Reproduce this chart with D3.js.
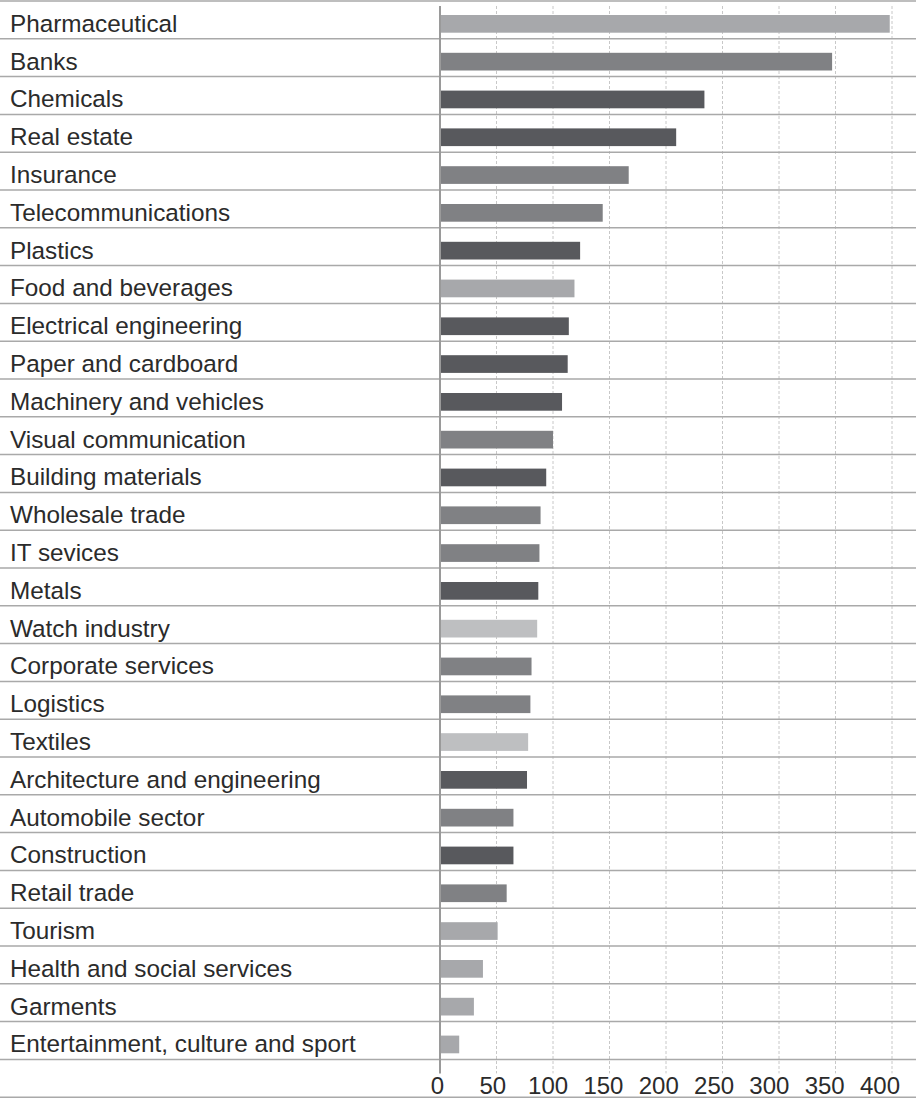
<!DOCTYPE html>
<html lang="en">
  <head>
    <meta charset="utf-8">
    <title>Sectors</title>
    <script src="https://d3js.org/d3.v7.js"></script>
    <style>
      body { margin: 0; background: #fff; }
      text { font-family: "Liberation Sans", Arial, sans-serif; fill: #2b2b2b; }
    </style>
  </head>
  <body>
    <script>

  // data
  var sectors = ["Pharmaceutical", "Banks", "Chemicals", "Real estate", "Insurance",
    "Telecommunications", "Plastics", "Food and beverages", "Electrical engineering",
    "Paper and cardboard", "Machinery and vehicles", "Visual communication",
    "Building materials", "Wholesale trade", "IT sevices", "Metals", "Watch industry",
    "Corporate services", "Logistics", "Textiles", "Architecture and engineering",
    "Automobile sector", "Construction", "Retail trade", "Tourism",
    "Health and social services", "Garments", "Entertainment, culture and sport"];
  var values = [398, 347, 234, 209, 167, 144, 124, 119, 114, 113, 108, 100, 94, 89,
    88, 87, 86, 81, 80, 78, 77, 65, 65, 59, 51, 38, 30, 17];
  // shade group of each bar
  var groups = [0, 1, 2, 2, 1, 1, 2, 0, 2, 2, 2, 1, 2, 1, 1, 2, 3, 1, 1, 3, 2, 1, 2, 1,
    0, 0, 0, 0];
  var ticks = [0, 50, 100, 150, 200, 250, 300, 350, 400];

  var w = 916;
  var h = 1099;
  var rowH = 37.8;
  var topY = 1;

  var data = sectors.map((s, i) => ({name: s, value: values[i], group: groups[i]}));

  var svg = d3.select("body")
    .append("svg")
    .attr("width", w)
    .attr("height", h);

  var xScale = d3.scaleLinear()
    .domain([0, 400])
    .range([440, 892]);

  // tick labels drift slightly left of their gridlines in the original
  var labelScale = d3.scaleLinear()
    .domain([0, 400])
    .range([437.5, 880]);

  var yScale = d3.scaleBand()
    .domain(sectors)
    .range([topY, topY + rowH * sectors.length]);

  var colors = d3.scaleOrdinal()
    .domain([0, 1, 2, 3])
    .range(["#a7a8ab", "#808184", "#58595d", "#bebfc1"]);

  var gridTop = 6;
  var gridBottom = topY + rowH * sectors.length + 14;

  // dashed gridlines
  svg.append("g")
    .selectAll("line")
    .data(ticks.slice(1))
    .enter()
    .append("line")
    .attr("x1", d => xScale(d))
    .attr("x2", d => xScale(d))
    .attr("y1", gridTop)
    .attr("y2", gridBottom)
    .attr("stroke", "#c8c8c8")
    .attr("stroke-width", 1)
    .attr("stroke-dasharray", "3,2");

  // row separators
  var seps = d3.range(sectors.length + 2);
  svg.append("g")
    .selectAll("line")
    .data(seps)
    .enter()
    .append("line")
    .attr("x1", 0)
    .attr("x2", w)
    .attr("y1", d => topY + d * rowH)
    .attr("y2", d => topY + d * rowH)
    .attr("stroke", "#a9a9a9")
    .attr("stroke-width", 1.5);

  // bars
  svg.append("g")
    .selectAll("rect")
    .data(data)
    .enter()
    .append("rect")
    .attr("x", xScale(0))
    .attr("y", d => yScale(d.name) + 14)
    .attr("width", d => xScale(d.value) - xScale(0))
    .attr("height", 17.7)
    .attr("fill", d => colors(d.group));

  // zero axis
  svg.append("line")
    .attr("x1", xScale(0))
    .attr("x2", xScale(0))
    .attr("y1", gridTop)
    .attr("y2", gridBottom)
    .attr("stroke", "#9a9a9a")
    .attr("stroke-width", 2);

  // category labels
  svg.append("g")
    .selectAll("text")
    .data(data)
    .enter()
    .append("text")
    .attr("x", 10)
    .attr("y", d => yScale(d.name) + 30.8)
    .style("font-size", "24.3px")
    .text(d => d.name);

  // tick labels
  svg.append("g")
    .selectAll("text")
    .data(ticks)
    .enter()
    .append("text")
    .attr("x", d => labelScale(d))
    .attr("y", topY + rowH * sectors.length + 35)
    .attr("text-anchor", "middle")
    .style("font-size", "24px")
    .text(d => d);

    </script>
  </body>
</html>
